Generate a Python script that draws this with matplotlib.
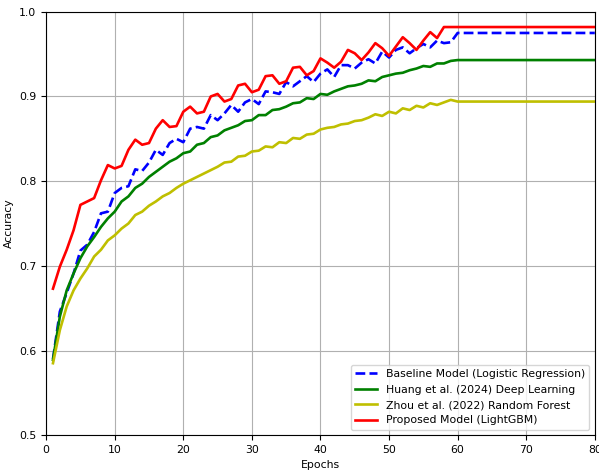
import numpy as np
import matplotlib
matplotlib.use('Agg')
import matplotlib.pyplot as plt

plt.rcParams['font.size'] = 7.8

epochs = np.arange(1, 81)

# accuracy per epoch; flat after convergence
baseline = [0.590, 0.646, 0.668, 0.691, 0.718, 0.725, 0.740, 0.762, 0.764, 0.786,
            0.792, 0.794, 0.814, 0.812, 0.822, 0.837, 0.831, 0.845, 0.850, 0.846,
            0.862, 0.864, 0.862, 0.878, 0.872, 0.880, 0.890, 0.882, 0.893, 0.897,
            0.891, 0.906, 0.905, 0.903, 0.917, 0.912, 0.918, 0.924, 0.917, 0.927,
            0.932, 0.923, 0.937, 0.937, 0.933, 0.940, 0.944, 0.939, 0.953, 0.946,
            0.955, 0.958, 0.951, 0.957, 0.962, 0.958, 0.966, 0.963, 0.964, 0.975]
baseline = baseline + [0.975] * 20

huang = [0.589, 0.640, 0.671, 0.691, 0.709, 0.723, 0.734, 0.746, 0.756, 0.764,
         0.776, 0.782, 0.792, 0.797, 0.805, 0.811, 0.817, 0.823, 0.827, 0.833,
         0.835, 0.843, 0.845, 0.852, 0.854, 0.860, 0.863, 0.866, 0.871, 0.872,
         0.878, 0.878, 0.884, 0.885, 0.888, 0.892, 0.893, 0.898, 0.897, 0.903,
         0.902, 0.906, 0.909, 0.912, 0.913, 0.915, 0.919, 0.918, 0.923, 0.925,
         0.927, 0.928, 0.931, 0.933, 0.936, 0.935, 0.939, 0.939, 0.942, 0.943]
huang = huang + [0.943] * 20

zhou = [0.585, 0.624, 0.652, 0.671, 0.685, 0.697, 0.711, 0.719, 0.730, 0.736,
        0.744, 0.750, 0.760, 0.764, 0.771, 0.776, 0.782, 0.786, 0.792, 0.797,
        0.801, 0.805, 0.809, 0.813, 0.817, 0.822, 0.823, 0.829, 0.830, 0.835,
        0.836, 0.841, 0.840, 0.846, 0.845, 0.851, 0.850, 0.855, 0.856, 0.861,
        0.863, 0.864, 0.867, 0.868, 0.871, 0.872, 0.875, 0.879, 0.877, 0.882,
        0.880, 0.886, 0.884, 0.889, 0.887, 0.892, 0.890, 0.893, 0.896, 0.894]
zhou = zhou + [0.894] * 20

proposed = [0.673, 0.699, 0.719, 0.742, 0.772, 0.776, 0.780, 0.801, 0.819, 0.815,
            0.818, 0.837, 0.849, 0.843, 0.845, 0.862, 0.872, 0.864, 0.865, 0.882,
            0.888, 0.880, 0.882, 0.900, 0.903, 0.894, 0.897, 0.913, 0.915, 0.905,
            0.908, 0.924, 0.925, 0.915, 0.918, 0.934, 0.935, 0.925, 0.930, 0.945,
            0.940, 0.934, 0.941, 0.955, 0.951, 0.943, 0.952, 0.963, 0.957, 0.948,
            0.959, 0.970, 0.963, 0.955, 0.966, 0.976, 0.969, 0.982]
proposed = proposed + [0.982] * 22

fig = plt.figure(figsize=(5.99, 4.72), dpi=100)
ax = fig.add_axes([0.077, 0.078, 0.916, 0.897])

ax.plot(epochs, baseline, 'b--', lw=1.9, label='Baseline Model (Logistic Regression)')
ax.plot(epochs, huang, 'g-', lw=1.9, label='Huang et al. (2024) Deep Learning')
ax.plot(epochs, zhou, 'y-', lw=1.9, label='Zhou et al. (2022) Random Forest')
ax.plot(epochs, proposed, 'r-', lw=1.9, label='Proposed Model (LightGBM)')

ax.set_xlim(0, 80)
ax.set_ylim(0.5, 1.0)
ax.set_xlabel('Epochs')
ax.set_ylabel('Accuracy')
ax.grid(True)
ax.legend(loc='lower right')

fig.savefig('out.png', dpi=100)
